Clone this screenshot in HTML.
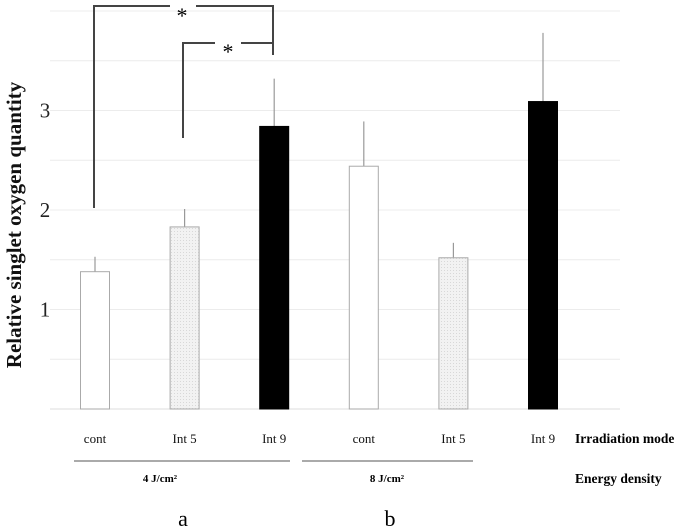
<!DOCTYPE html>
<html><head><meta charset="utf-8"><style>
body{margin:0;background:#fff}
svg{display:block;font-family:"Liberation Serif",serif}
</style></head><body>
<svg id="chart" width="688" height="530" viewBox="0 0 688 530">
<defs><pattern id="dots" width="3" height="3" patternUnits="userSpaceOnUse"><rect width="3" height="3" fill="#f2f2f2"/><rect width="1" height="1" fill="#d8d8d8"/></pattern></defs>
<g id="grid"></g><g id="bars"></g>
<text transform="translate(21,225) rotate(-90)" text-anchor="middle" font-size="21" font-weight="bold" fill="#111">Relative singlet oxygen quantity</text>
<g stroke="#444" stroke-width="2" fill="none"><path d="M94 208V6H170M196 6H273V55"/></g>
<text x="182" y="23" text-anchor="middle" font-size="22">*</text>
<g stroke="#444" stroke-width="2" fill="none"><path d="M183 138V43H215M241 43H273V55"/></g>
<text x="228" y="59" text-anchor="middle" font-size="22">*</text>
<line x1="74" y1="461" x2="290" y2="461" stroke="#555"/>
<line x1="302" y1="461" x2="473" y2="461" stroke="#555"/>
<text x="160" y="482" text-anchor="middle" font-size="11" font-weight="bold">4 J/cm²</text>
<text x="387" y="482" text-anchor="middle" font-size="11" font-weight="bold">8 J/cm²</text>
<text x="575" y="443" font-size="13.5" font-weight="bold">Irradiation mode</text>
<text x="575" y="483" font-size="13.5" font-weight="bold">Energy density</text>
<text x="183" y="526" text-anchor="middle" font-size="22">a</text>
<text x="390" y="526" text-anchor="middle" font-size="22">b</text>
</svg>
<script>
const categories=["cont","Int 5","Int 9","cont","Int 5","Int 9"];
const values=[1.38,1.83,2.84,2.44,1.52,3.09];
const errTops=[1.53,2.01,3.32,2.89,1.67,3.78];
const fills=["#fff","url(#dots)","#000","#fff","url(#dots)","#000"];
const yTicks=[1,2,3];
const gridVals=[0.5,1,1.5,2,2.5,3,3.5,4];
const ns="http://www.w3.org/2000/svg";
const y=v=>409-v*99.5;
const xc=i=>95+i*89.6;
const bw=29;
const g=document.getElementById('grid'),b=document.getElementById('bars');
function mk(tag,at,p){const e=document.createElementNS(ns,tag);for(const k in at)e.setAttribute(k,at[k]);p.appendChild(e);return e;}
[0,...gridVals].forEach(v=>{
const l=mk('line',{x1:50,x2:620,y1:y(v),y2:y(v),stroke:v===0?'#ddd':'#ececec'},g);


});
yTicks.forEach(v=>{
const t=mk('text',{x:45,y:y(v)+7,'text-anchor':'middle','font-size':21,fill:'#222'},g);


t.textContent=v;
});
values.forEach((v,i)=>{
const c=xc(i);
const e=mk('line',{x1:c,x2:c,y1:y(errTops[i]),y2:y(v),stroke:'#999','stroke-width':1.2},b);


const r=mk('rect',{x:c-bw/2,y:y(v),width:bw,height:y(0)-y(v),fill:fills[i],stroke:fills[i]==='#000'?'#000':'#aaa','stroke-width':1},b);


const t=mk('text',{x:c,y:443,'text-anchor':'middle','font-size':13,fill:'#111'},b);


t.textContent=categories[i];
});
</script>
</body></html>
